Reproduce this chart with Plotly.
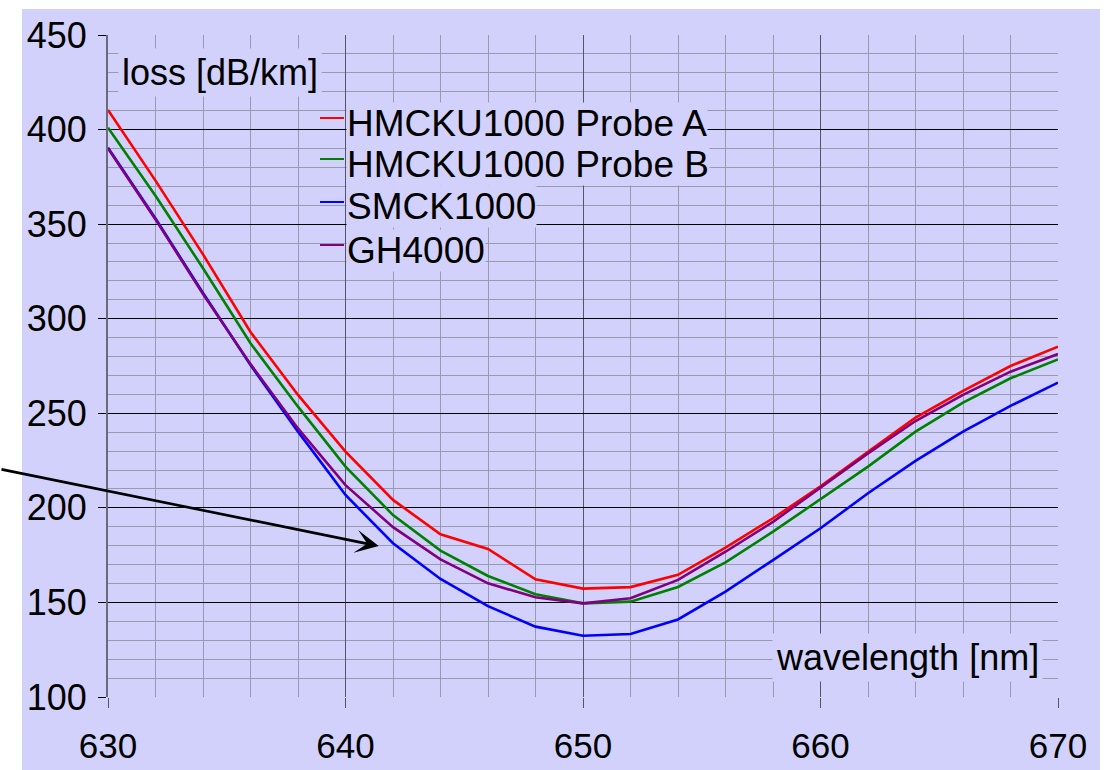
import plotly.graph_objects as go

wavelength = [630, 632, 634, 636, 638, 640, 642, 644, 646, 648, 650,
              652, 654, 656, 658, 660, 662, 664, 666, 668, 670]

probe_a = [410.4, 373, 334, 293, 259.7, 229.7, 204.2, 186, 178.3, 162.2, 157.3,
           158.1, 164.6, 179, 194.5, 211.4, 229.7, 247.7, 261.8, 275, 285.2]
probe_b = [401, 365, 326.7, 287, 253.5, 221.8, 196.2, 177.4, 164, 154.3, 149.5,
           150.4, 158.2, 171.2, 187.4, 204.6, 221.8, 240.3, 255.6, 268.5, 278.5]
smck = [390.4, 353, 313.6, 275.5, 240.3, 206.8, 181.3, 162.4, 148, 137.2, 132.4,
        133.3, 141, 155.7, 172.4, 189.2, 207.7, 224.8, 240.3, 253.9, 266.2]
gh4000 = [390, 352.5, 313, 276, 242, 212, 189.8, 172.8, 160.1, 152.7, 149.5,
          152.2, 161.9, 176.8, 192.6, 210.6, 228.8, 245.9, 259.7, 272, 281.3]

series_names = ["HMCKU1000 Probe A", "HMCKU1000 Probe B", "SMCK1000", "GH4000"]
series_values = [probe_a, probe_b, smck, gh4000]
series_colors = ["#ff0000", "#008000", "#0000ff", "#800080"]

x_title = "wavelength [nm]"
y_title = "loss [dB/km]"

BG = "#d1d1fb"
FONT = "Liberation Sans, Arial, sans-serif"

# plot-area geometry (pixels) used for layout placement
L, R, T, B = 108, 1058, 35, 697
W, H = R - L, B - T


def px(xp):
    return (xp - L) / W


def py(yp):
    return (B - yp) / H


fig = go.Figure()
for name, vals, col in zip(series_names, series_values, series_colors):
    fig.add_trace(go.Scatter(x=wavelength, y=vals, mode="lines", name=name,
                             line=dict(color=col, width=2.6), showlegend=False))

shapes = [dict(type="rect", xref="paper", yref="paper", layer="below",
               x0=px(22), x1=px(1100), y0=-0.2, y1=py(9),
               fillcolor=BG, line=dict(width=0))]

fig.update_layout(
    width=1111, height=770,
    margin=dict(l=L, r=1111 - R, t=T, b=770 - B, autoexpand=False),
    paper_bgcolor="white",
    plot_bgcolor=BG,
    font=dict(family=FONT, color="black", size=36),
    showlegend=False,
)

fig.update_xaxes(
    range=[630, 670], tick0=630, dtick=10, automargin=False,
    showgrid=True, gridcolor="#55556a", gridwidth=1.2,
    ticks="outside", ticklen=10, tickcolor="#55556a", tickwidth=1.2,
    ticklabelstandoff=8,
    tickfont=dict(size=35, family=FONT, color="black"),
    showline=False, zeroline=False,
    minor=dict(dtick=2, showgrid=True, gridcolor="#9a9aae", gridwidth=1.4, ticks=""),
)
fig.update_yaxes(
    range=[100, 450], tick0=100, dtick=50, automargin=False,
    showgrid=True, gridcolor="black", gridwidth=1,
    ticks="outside", ticklen=8, tickcolor="black", tickwidth=1,
    ticklabelstandoff=4,
    tickfont=dict(size=36, family=FONT, color="black"),
    showline=True, linecolor="#6a6a7a", linewidth=2, mirror=False,
    zeroline=False,
    minor=dict(dtick=10, showgrid=True, gridcolor="#9a9aae", gridwidth=1.4, ticks=""),
)

# axis titles placed inside the plot area
fig.add_annotation(text=y_title, xref="paper", yref="paper",
                   x=px(118), y=py(72), xanchor="left", yanchor="middle",
                   showarrow=False, bgcolor=BG, borderpad=3,
                   font=dict(size=36, family=FONT, color="black"))
fig.add_annotation(text=x_title, xref="paper", yref="paper",
                   x=px(1043), y=py(657), xanchor="right", yanchor="middle",
                   showarrow=False, bgcolor=BG, borderpad=3,
                   font=dict(size=36, family=FONT, color="black"))

# legend (text boxes plus short line samples)
legend_rows = [123, 164, 207, 250]
for name, col, yrow in zip(series_names, series_colors, legend_rows):
    fig.add_annotation(text=name, xref="paper", yref="paper",
                       x=px(346), y=py(yrow), xanchor="left", yanchor="middle",
                       showarrow=False, bgcolor=BG, borderpad=0,
                       font=dict(size=37, family=FONT, color="black"))
    shapes.append(dict(type="line", xref="paper", yref="paper", layer="above",
                       x0=px(320), x1=px(344), y0=py(yrow - 5), y1=py(yrow - 5),
                       line=dict(color=col, width=2)))

fig.update_layout(shapes=shapes)

# pointer arrow
fig.add_annotation(text="", x=641.4, y=179.8, xref="x", yref="y",
                   ax=-379, ay=-77, axref="pixel", ayref="pixel",
                   showarrow=True, arrowhead=3, arrowsize=1.5, arrowwidth=2.6,
                   arrowcolor="black")

fig.write_html("out.html")
